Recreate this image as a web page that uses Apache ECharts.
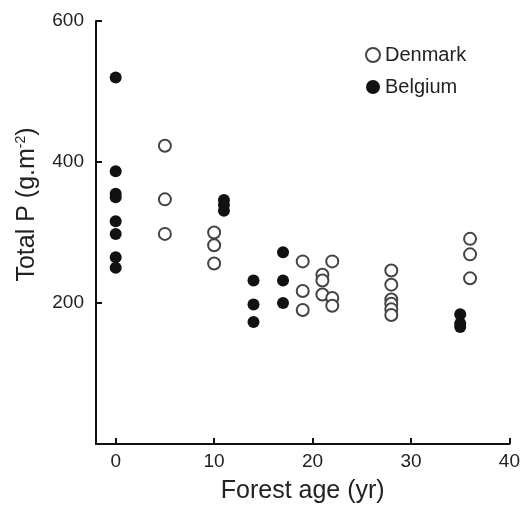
<!DOCTYPE html>
<html>
<head>
<meta charset="utf-8">
<script src="https://cdn.jsdelivr.net/npm/echarts@6/dist/echarts.min.js"></script>
<style>
  html, body { margin: 0; padding: 0; background: #fff; }
  #main { width: 523px; height: 509px; }
</style>
</head>
<body>
<div id="main"></div>
<script>
// forest age (yr) and total P (g.m-2)
const denmarkAge = [5, 5, 5, 10, 10, 10, 19, 19, 19, 21, 21, 21, 22, 22, 22, 28, 28, 28, 28, 28, 28, 36, 36, 36]
const denmarkP = [423, 347, 298, 300, 282, 256, 259, 217, 190, 240, 232, 212, 259, 207, 196, 246, 226, 205, 199, 191, 183, 291, 269, 235]
const belgiumAge = [0, 0, 0, 0, 0, 0, 0, 0, 11, 11, 11, 14, 14, 14, 17, 17, 17, 35, 35, 35]
const belgiumP = [520, 387, 355, 350, 316, 298, 265, 250, 346, 339, 331, 232, 198, 173, 272, 232, 200, 184, 171, 166]

const xTicks = [0, 10, 20, 30, 40]
const yTicks = [200, 400, 600]

const zip = (a, b) => a.map((v, i) => [v, b[i]])

const chart = echarts.init(document.getElementById('main'))
const font = 'Liberation Sans, Arial, sans-serif'
const axisColor = '#111'
const textColor = '#222'

const option = {
  animation: false,
  grid: { left: 96, right: 13, top: 21, bottom: 65 },
  legend: {
    orient: 'vertical',
    left: 360,
    top: 40,
    itemWidth: 14,
    itemHeight: 14,
    itemGap: 12,
    textStyle: { fontFamily: font, fontSize: 20, color: textColor, lineHeight: 20 },
    data: [
      { name: 'Denmark', icon: 'circle' },
      { name: 'Belgium', icon: 'circle' },
    ],
  },
  xAxis: {
    type: 'value',
    min: -2,
    max: 40,
    name: 'Forest age (yr)',
    nameLocation: 'middle',
    nameGap: 35,
    nameTextStyle: { fontFamily: font, fontSize: 25, color: textColor, verticalAlign: 'top' },
    splitLine: { show: false },
    axisLine: { onZero: false, lineStyle: { color: axisColor, width: 2 } },
    axisTick: { inside: true, length: 6, customValues: xTicks, lineStyle: { color: axisColor, width: 2 } },
    axisLabel: { customValues: xTicks, fontFamily: font, fontSize: 19, color: textColor, margin: 8 },
  },
  yAxis: {
    type: 'value',
    min: 0,
    max: 600,
    name: 'Total P (g.m{sup|-2})',
    nameLocation: 'middle',
    nameGap: 56,
    nameRotate: 90,
    nameTextStyle: {
      fontFamily: font,
      fontSize: 25,
      color: textColor,
      padding: [0, 0, 0, 56],
      rich: {
        sup: { fontFamily: font, fontSize: 14, color: textColor, verticalAlign: 'top', padding: [0, 0, 12, 0] },
      },
    },
    splitLine: { show: false },
    axisLine: { onZero: false, lineStyle: { color: axisColor, width: 2 } },
    axisTick: { inside: true, length: 6, customValues: yTicks, lineStyle: { color: axisColor, width: 2 } },
    axisLabel: { customValues: yTicks, fontFamily: font, fontSize: 19, color: textColor, margin: 12 },
  },
  series: [
    {
      name: 'Denmark',
      type: 'scatter',
      symbol: 'circle',
      symbolSize: 12,
      itemStyle: { color: '#fff', borderColor: '#444', borderWidth: 2, opacity: 1 },
      data: zip(denmarkAge, denmarkP),
    },
    {
      name: 'Belgium',
      type: 'scatter',
      symbol: 'circle',
      symbolSize: 12,
      itemStyle: { color: '#111', opacity: 1 },
      data: zip(belgiumAge, belgiumP),
    },
  ],
}

chart.setOption(option)
</script>
</body>
</html>
